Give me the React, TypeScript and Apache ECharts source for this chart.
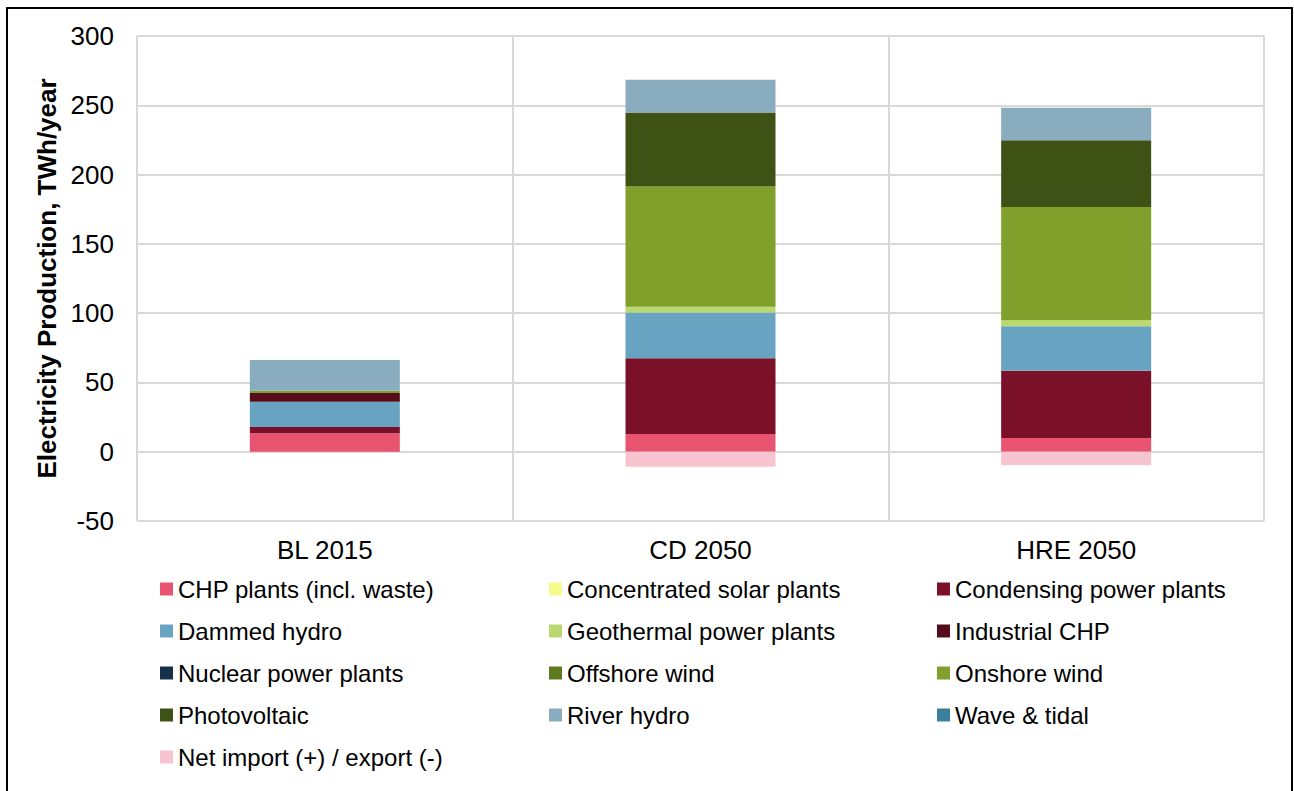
import React, { useEffect, useRef } from "react";
import * as echarts from "echarts";

const categories = ["BL 2015", "CD 2050", "HRE 2050"];

const chpPlants = [13.3, 12.8, 9.9];
const concentratedSolar = [0, 0, 0];
const condensing = [4.5, 54.6, 48.6];
const dammedHydro = [18.3, 33.1, 32.0];
const geothermal = [0, 4.1, 4.5];
const industrialChp = [6.3, 0, 0];
const nuclear = [0, 0, 0];
const offshoreWind = [0, 0, 0];
const onshoreWind = [1.6, 86.8, 81.6];
const photovoltaic = [0, 53.4, 48.1];
const riverHydro = [22.2, 23.6, 23.6];
const waveTidal = [0, 0, 0];
const netImport = [0, -10.8, -9.8];

const yTicks = { min: -50, max: 300, interval: 50 };

const seriesDefs = [
  { name: "CHP plants (incl. waste)", data: chpPlants, color: "#e8546f" },
  { name: "Concentrated solar plants", data: concentratedSolar, color: "#f4fb8a" },
  { name: "Condensing power plants", data: condensing, color: "#7a1128" },
  { name: "Dammed hydro", data: dammedHydro, color: "#68a3c1" },
  { name: "Geothermal power plants", data: geothermal, color: "#b9d970" },
  { name: "Industrial CHP", data: industrialChp, color: "#550c1b" },
  { name: "Nuclear power plants", data: nuclear, color: "#17304a" },
  { name: "Offshore wind", data: offshoreWind, color: "#5d7b1e" },
  { name: "Onshore wind", data: onshoreWind, color: "#80a02b" },
  { name: "Photovoltaic", data: photovoltaic, color: "#3f5215" },
  { name: "River hydro", data: riverHydro, color: "#8aacbf" },
  { name: "Wave & tidal", data: waveTidal, color: "#3c7f9c" },
  { name: "Net import (+) / export (-)", data: netImport, color: "#f7c5d0" },
];

const legendColumns = [
  ["CHP plants (incl. waste)", "Dammed hydro", "Nuclear power plants", "Photovoltaic", "Net import (+) / export (-)"],
  ["Concentrated solar plants", "Geothermal power plants", "Offshore wind", "River hydro"],
  ["Condensing power plants", "Industrial CHP", "Onshore wind", "Wave & tidal"],
];
const legendLeft = [160, 549, 937];

const FONT = "'Liberation Sans', Arial, sans-serif";

export default function App() {
  const ref = useRef<HTMLDivElement>(null);
  useEffect(() => {
    if (!ref.current) return;
    const chart = echarts.init(ref.current, undefined, { renderer: "svg" });
    const grid = "#d9d9d9";
    chart.setOption({
      animation: false,
      textStyle: { fontFamily: FONT },
      grid: { left: 137, right: 30, top: 36, bottom: 270 },
      legend: legendColumns.map((col, i) => ({
        data: col,
        orient: "vertical",
        left: legendLeft[i],
        top: 575,
        padding: 0,
        icon: "rect",
        itemWidth: 13,
        itemHeight: 13,
        itemGap: 14,
        selectedMode: false,
        textStyle: { fontSize: 24, color: "#000", fontFamily: FONT, lineHeight: 28 },
      })),
      xAxis: {
        type: "category",
        data: categories,
        axisLine: { show: false },
        axisTick: { show: false },
        splitLine: { show: true, lineStyle: { color: grid, width: 2 } },
        axisLabel: { fontSize: 26, color: "#000", margin: 16, fontFamily: FONT },
      },
      yAxis: {
        type: "value",
        min: yTicks.min,
        max: yTicks.max,
        interval: yTicks.interval,
        axisLine: { show: false },
        axisTick: { show: false },
        splitLine: { show: true, lineStyle: { color: grid, width: 2 } },
        axisLabel: { fontSize: 26, color: "#000", margin: 23, fontFamily: FONT },
        name: "Electricity Production, TWh/year",
        nameLocation: "middle",
        nameGap: 77,
        nameTextStyle: { fontSize: 26, fontWeight: "bold", color: "#000", fontFamily: FONT },
      },
      series: seriesDefs.map((s) => ({
        name: s.name,
        type: "bar",
        stack: "total",
        barWidth: 150,
        data: s.data,
        itemStyle: { color: s.color },
      })),
    });
    return () => chart.dispose();
  }, []);
  return (
    <div style={{ position: "absolute", left: 0, top: 0, width: 1294, height: 791, overflow: "hidden", background: "#fff" }}>
      <div ref={ref} style={{ position: "absolute", left: 0, top: 0, width: 1294, height: 791 }} />
      <div
        style={{
          position: "absolute",
          left: 6,
          top: 7,
          width: 1287,
          height: 800,
          border: "2px solid #000",
          boxSizing: "border-box",
          pointerEvents: "none",
        }}
      />
    </div>
  );
}
